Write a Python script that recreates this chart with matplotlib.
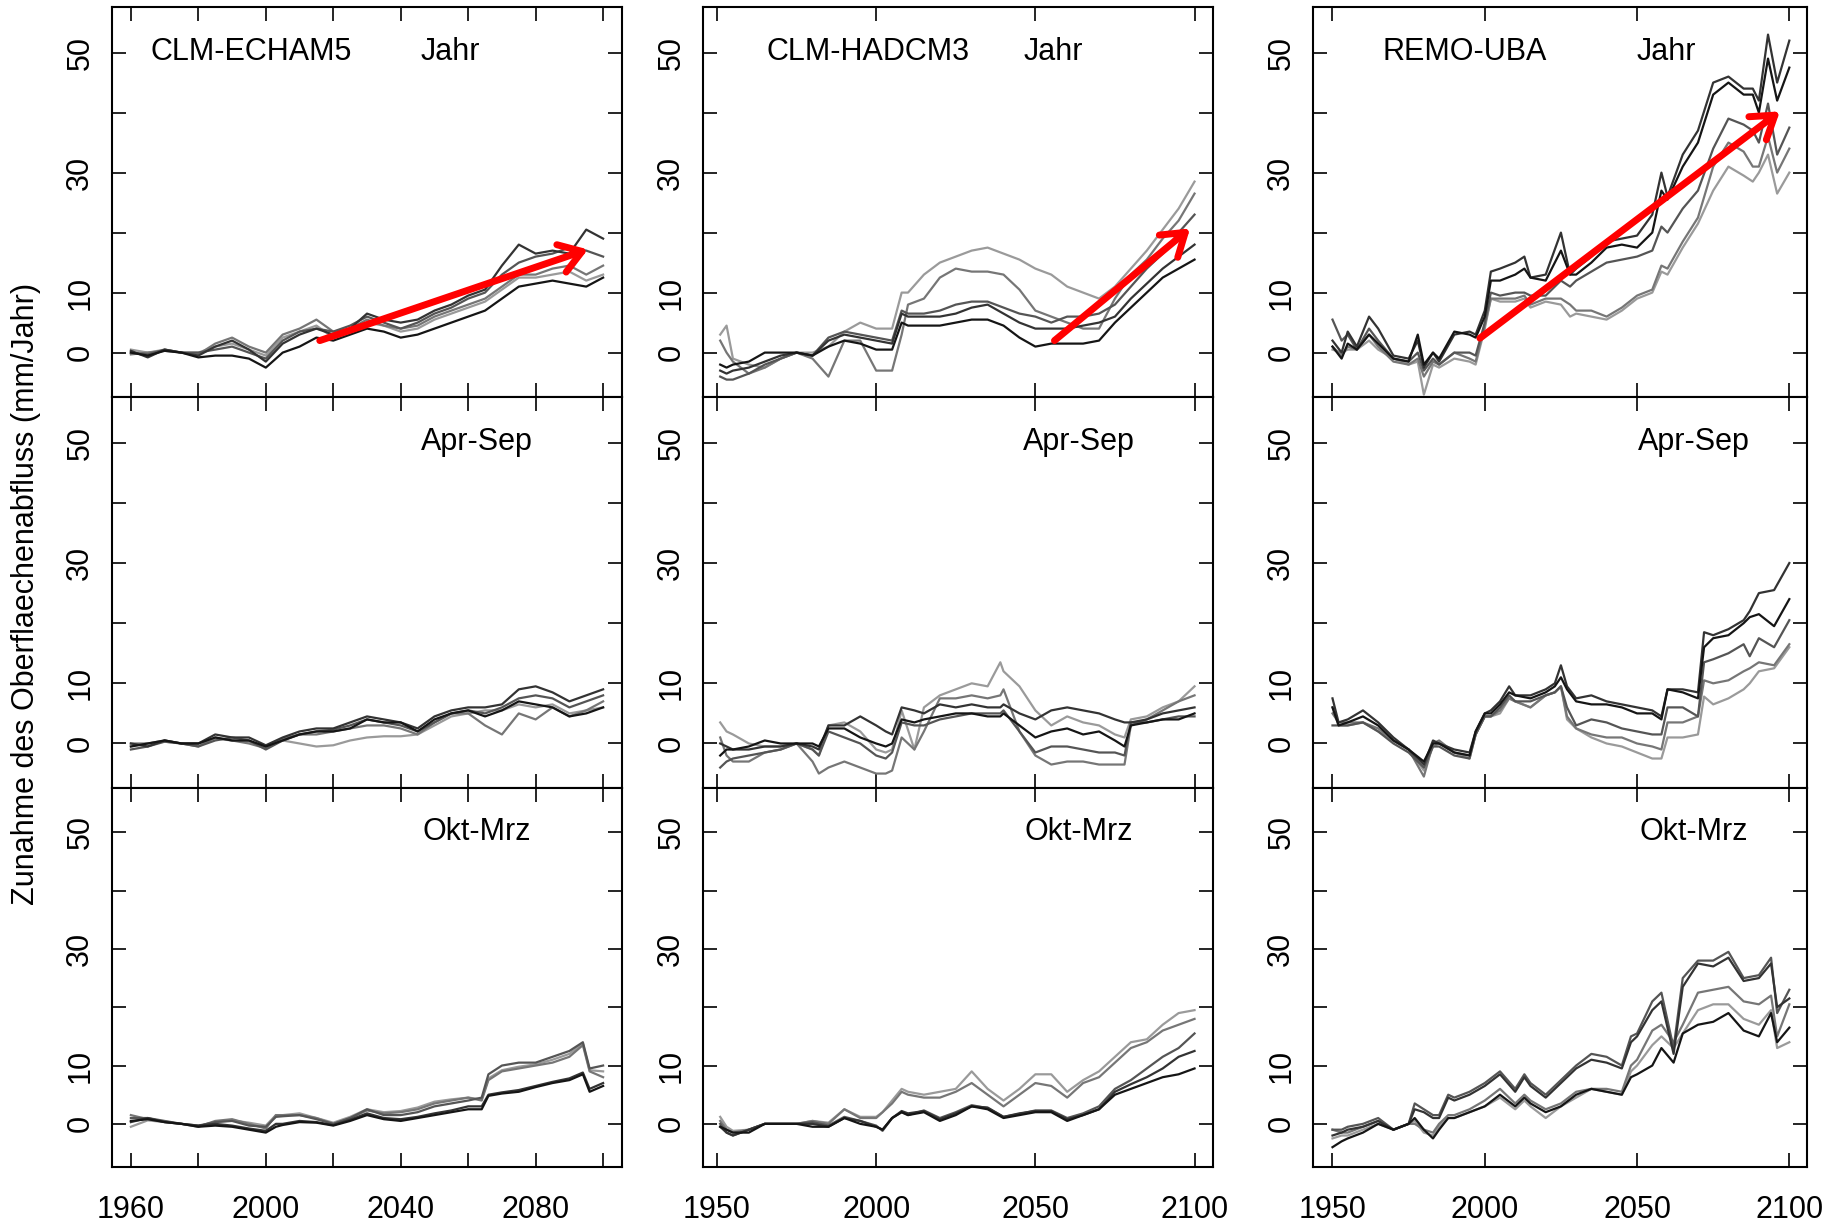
import matplotlib
matplotlib.use('Agg')
import matplotlib.pyplot as plt

plt.rcParams['font.family'] = ['Liberation Sans', 'DejaVu Sans']

# ---------------- data ----------------
models = ['CLM-ECHAM5', 'CLM-HADCM3', 'REMO-UBA']
seasons = ['Jahr', 'Apr-Sep', 'Okt-Mrz']
ylabel = 'Zunahme des Oberflaechenabfluss (mm/Jahr)'

# --- CLM-ECHAM5 ---
ech_years = list(range(1960, 2101, 5))
ech_jahr = [
    [0, -0.5, 0.3, 0, -0.8, -0.5, -0.5, -1, -2.5, 0, 1, 2.5, 2, 3, 4, 3.5, 2.5, 3, 4, 5, 6, 7, 9, 11, 11.5, 12, 11.5, 11, 12.5],
    [0.3, -0.8, 0.5, 0, -0.5, 1, 2, 0.5, -1.5, 1.5, 3, 4, 3, 4, 6.5, 5.5, 5, 5.5, 7, 8, 9.5, 10.5, 14.5, 18, 16.5, 17, 16.5, 20.5, 19],
    [0, -0.3, 0.5, 0, 0, 0.5, 1, 0, -1, 2, 3.5, 4, 3.5, 4.5, 6, 5, 4, 5, 6.5, 7.5, 9, 10, 13, 15, 16, 16.5, 17.5, 17, 16],
    [-0.3, 0, 0.3, 0, -0.3, 1.5, 2.5, 1, 0, 3, 4, 5.5, 3.5, 4, 5.5, 4.5, 4, 4.5, 6, 7, 8, 9, 11, 13, 13, 14, 14.5, 13, 14.5],
    [0.5, 0, 0.5, 0, 0, 1, 1.5, 0.5, -0.5, 2.5, 3.5, 4.5, 2.5, 3.5, 5, 4.5, 3.5, 4, 5.5, 6.5, 7.5, 8.5, 10.5, 12.5, 12.5, 13, 13.5, 12, 13],
]
ech_sommer = [
    [-0.5, 0, 0.5, 0, 0, 1, 0.5, 0.5, -0.5, 0.5, 1.5, 2, 2, 2.5, 4, 3.5, 3.5, 2, 4, 5, 5.5, 4.5, 5.5, 7, 6.5, 6, 4.5, 5, 6],
    [0, -0.5, 0.5, 0, 0, 1.5, 1, 1, -0.3, 1, 2, 2.5, 2.5, 3.5, 4.5, 4, 3.5, 2.5, 4.5, 5.5, 6, 6, 6.5, 9, 9.5, 8.5, 7, 8, 9],
    [-1, -0.5, 0.3, 0, -0.5, 0.5, 1, 0.5, -1, 0.5, 1.5, 2, 2.3, 3, 4, 3.5, 3, 2, 3.5, 5, 5.5, 5, 6, 7.5, 8, 7.5, 6, 7, 8],
    [0, 0, 0.5, 0, -0.5, 1, 0.5, 0, -0.8, 0.8, 1.5, 1.5, 2, 2.5, 3, 3, 2.5, 1.5, 3.5, 5, 5, 3, 1.5, 5, 4, 6, 4.5, 5.5, 7],
    [-0.5, 0, 0.3, 0, 0, 0.8, 0.5, 0.3, -0.5, 0.5, 0, -0.5, -0.3, 0.5, 1, 1.2, 1.2, 1.5, 3, 4.5, 5, 5.5, 5.5, 6.5, 6, 6.5, 5, 5.5, 6],
]
ech_winter_years = [1960, 1965, 1970, 1975, 1980, 1985, 1990, 1995, 2000, 2003, 2005, 2010, 2015, 2020, 2025,
                    2030, 2035, 2040, 2045, 2050, 2055, 2060, 2064, 2066, 2070, 2075, 2080, 2085, 2090, 2094, 2096, 2100]
ech_winter = [
    [0.5, 0.8, 0.3, 0, -0.5, -0.3, -0.5, -1, -1.5, -0.5, -0.2, 0.3, 0.2, -0.3, 0.5, 1.5, 0.8, 0.5, 1, 1.5, 2, 2.5, 2.5, 4.8, 5.2, 5.5, 6.3, 7, 7.5, 8.5, 5.5, 6.5],
    [0.3, 1, 0.3, 0, -0.3, 0, -0.3, -0.8, -1.2, 0, 0, 0.5, 0.3, -0.2, 0.7, 1.8, 1, 0.8, 1.2, 1.8, 2.3, 3, 3, 5, 5.4, 5.8, 6.5, 7.2, 7.8, 8.8, 6, 7],
    [1, 1, 0.5, 0, -0.3, 0.3, 0.5, -0.3, -0.5, 1.2, 1.3, 1.5, 0.8, 0, 1, 2.5, 1.5, 1.5, 2, 3, 3.5, 4, 4.5, 8.5, 10, 10.5, 10.5, 11.5, 12.5, 14, 9.5, 10],
    [1.5, 0.8, 0.4, 0, -0.5, 0.5, 0.8, 0, -0.8, 1.5, 1.5, 1.5, 1, 0, 1, 2.3, 1.8, 2, 2.5, 3.5, 4, 4.5, 4, 7.5, 9, 9.5, 10, 10.5, 11.5, 13.5, 9, 8],
    [-0.5, 0.6, 0.3, 0, -0.4, 0.3, 0.6, 0.2, -0.3, 1.5, 1.5, 1.8, 1, 0.2, 1.2, 2.5, 2, 2.2, 2.8, 3.8, 4.2, 4.5, 4.2, 7.8, 9.2, 9.8, 10.2, 11, 12, 13.8, 9.2, 9],
]

# --- CLM-HADCM3 ---
had_jahr_years = [1951, 1953, 1955, 1960, 1965, 1970, 1975, 1980, 1985, 1990, 1995, 2000, 2005, 2008, 2010, 2015,
                  2020, 2025, 2030, 2035, 2040, 2045, 2050, 2055, 2060, 2065, 2070, 2075, 2080, 2085, 2090, 2095, 2100]
had_jahr = [
    [-2, -2.5, -2, -1.5, 0, 0, 0, -0.5, 1, 2, 1.5, 0.5, 0.5, 5, 4.5, 4.5, 4.5, 5, 5.5, 5.5, 4.5, 2.5, 1, 1.5, 1.5, 1.5, 2, 5, 7.5, 10, 12.5, 14, 15.5],
    [-3, -3.5, -3, -2.5, -1.5, -0.5, 0, -0.5, 2, 3, 2.5, 2, 1.5, 6.5, 6, 6, 6, 6.5, 7.5, 8, 6.5, 5, 4, 4, 4, 4.5, 5, 6, 9, 11.5, 14, 16, 18],
    [-4, -4.5, -4.5, -3.5, -2, -1, 0, -0.5, 2.5, 3.5, 3, 2.5, 2, 7, 6.5, 6.5, 7, 8, 8.5, 8.5, 7.5, 6.5, 6, 5, 6, 6, 6.5, 8, 11, 14, 16.5, 20, 23],
    [2, 0, -1.5, -3.5, -2.5, -1, 0, -1, -4, 2, 2, -3, -3, 3, 8, 9, 12.5, 14, 13.5, 13.5, 13, 10.5, 7, 6, 5, 4, 4, 9, 13, 15.5, 19, 22, 26.5],
    [3, 4.5, -1, -2, -2.5, -1, 0, 0, 1, 3.5, 5, 4, 4, 10, 10, 13, 15, 16, 17, 17.5, 16.5, 15.5, 14, 13, 11, 10, 9, 11, 14, 17, 20.5, 24, 28.5],
]
had_sommer_years = [1951, 1953, 1955, 1960, 1965, 1970, 1975, 1980, 1982, 1985, 1990, 1995, 2000, 2003, 2005, 2008,
                    2012, 2015, 2020, 2025, 2030, 2035, 2039, 2040, 2045, 2050, 2055, 2060, 2065, 2070, 2075, 2078,
                    2080, 2085, 2090, 2095, 2100]
had_sommer = [
    [-2, -1, -1, -0.5, 0.5, 0, 0, 0, -0.5, 2.5, 2.5, 1, 0, -0.5, 0, 4, 3.5, 4, 4.5, 5, 5, 4.5, 4.5, 5, 3, 1, 2, 2.5, 1.5, 2, 0.5, -0.5, 3, 3.5, 4, 4, 5],
    [0, -0.5, -1, -1, -0.5, -0.5, 0, -0.5, -1, 3, 3, 4.5, 3, 2, 1.5, 6, 5.5, 5, 6.5, 6, 6.5, 6, 6, 6.5, 5, 4, 5.5, 6, 5.5, 5, 4, 3.5, 3.5, 4, 5, 5.5, 6],
    [-4, -3, -2.5, -2, -1.5, -1, 0, -1, -2, 2, 1, 0, -2, -2.5, -1.5, 3.5, 3, 3, 4, 4.5, 5, 5, 5, 5.5, 2, -1.5, -0.5, -0.5, -1, -1.5, -1.5, -2, 3.5, 3.5, 4, 4.5, 4.5],
    [1, -2, -3, -3, -1.5, -1, 0, -3, -5, -4, -3, -4, -5, -5, -4.5, 1, -1, 2, 7.5, 7.5, 8, 7.5, 8, 9, 2, -2, -3.5, -3, -3, -3.5, -3.5, -3.5, 3, 4, 5.5, 7, 8],
    [3.5, 2, 1.5, 0, -0.5, -0.5, 0, -1, -2, 3, 3.5, 2, -1, -1.5, -1, 5.5, -1, 6, 8, 9, 10, 9.5, 13.5, 12, 9.5, 5.5, 3, 4.5, 3.5, 3, 1.5, 1, 4, 4.5, 6, 7, 9.5],
]
had_winter_years = [1951, 1953, 1955, 1960, 1965, 1970, 1975, 1980, 1985, 1990, 1995, 2000, 2002, 2005, 2008, 2010,
                    2015, 2020, 2025, 2030, 2035, 2040, 2045, 2050, 2055, 2060, 2065, 2070, 2075, 2080, 2085, 2090, 2095, 2100]
had_winter = [
    [-0.5, -1, -1.5, -1.5, 0, 0, 0, -0.5, -0.5, 1, 0, -0.5, -1, 1, 2, 1.5, 2, 0.5, 1.5, 3, 2.5, 1, 1.5, 2, 2, 0.5, 1.5, 2.5, 5, 6, 7, 8, 8.5, 9.5],
    [-0.5, -1.5, -2, -1, 0, 0, 0, 0, -0.5, 1, 0.5, -0.5, -1, 1, 2.2, 1.8, 2.2, 0.8, 1.8, 3, 2.8, 1.2, 1.8, 2.2, 2.2, 0.8, 1.5, 2.5, 5.5, 6.8, 8, 9.5, 11.5, 12.5],
    [0, -1.5, -2, -1, 0, 0, 0, 0.3, -0.3, 1.2, 0.5, -0.3, -1.2, 1, 2, 1.5, 2.3, 1, 2, 3.2, 2.7, 1.2, 1.7, 2.3, 2.3, 1, 1.8, 3, 6, 7.5, 9.5, 11.5, 13, 15.5],
    [0.5, -1, -1.5, -1, 0, 0, 0, 0.5, 0, 2.5, 1, 1, 2, 3.5, 5.5, 5, 4.5, 4.5, 5.5, 7, 5, 3, 5, 7, 6.5, 4.5, 7, 8, 10.5, 13, 14, 16, 17, 18],
    [1.2, -0.5, -1.2, -1, 0, 0, 0, 0.5, 0.2, 2.5, 1.2, 1.2, 2, 4, 6, 5.5, 5, 5.5, 6, 9, 6, 4, 6, 8.5, 8.5, 5.5, 7.5, 9, 11.5, 14, 14.5, 17, 19, 19.5],
]

# --- REMO-UBA ---
remo_jahr_years = [1950, 1953, 1955, 1958, 1962, 1965, 1970, 1975, 1978, 1980, 1983, 1985, 1990, 1995, 1997, 2000,
                   2002, 2005, 2010, 2013, 2015, 2020, 2025, 2028, 2030, 2035, 2040, 2045, 2050, 2055, 2058, 2060,
                   2065, 2070, 2075, 2080, 2085, 2088, 2090, 2093, 2096, 2100]
remo_jahr = [
    [1, -1, 1.5, 0.5, 3, 1.5, -1, -1.5, 3, -2, 0, -1, 3.5, 3, 2.5, 6, 12, 12, 13, 14, 12.5, 12, 17, 13, 13, 15, 17.5, 18, 17.5, 20, 27, 25.5, 31, 35, 43, 45, 43, 43, 40, 49, 42, 47.5],
    [2, 0, 3.5, 1, 6, 4, -0.5, -1, 2, -2.5, 0, -1.5, 3, 3.5, 3, 7, 13.5, 14, 15, 16, 12.5, 13, 20, 13, 14, 16, 18.5, 19, 19.5, 23, 30, 26, 33, 37, 45, 46, 44, 44, 42, 53, 45, 52],
    [5.5, 2, 3, 0.5, 4, 2, -1, -1.5, 0, -3, -1, -2, 0, 0, -0.5, 5, 10, 9.5, 10, 10, 9.5, 9.5, 12, 11, 12, 13.5, 15, 15.5, 16, 17, 21, 20, 24, 27, 34, 39, 38, 37, 35, 41.5, 33, 37.5],
    [1, -0.5, 1, 0.5, 3, 1, -1.5, -2, -1, -4, -1.5, -2, 0, -1, -1.5, 4.5, 9, 9, 9, 9.5, 8, 9, 9, 8, 7, 7, 6, 7.5, 9.5, 10.5, 14.5, 14, 18.5, 22.5, 31, 35, 33.5, 31, 31, 36, 30, 34],
    [0.5, 0, 0.5, 0.5, 2, 0.5, -1, -2, -1.5, -7, -2, -2.5, -1, -1.5, -2, 4, 9, 8.5, 8.5, 9, 7.5, 8.5, 8, 6, 6.5, 6, 5.5, 7, 9, 10, 13.5, 13, 17.5, 21.5, 27, 31, 29.5, 28.5, 30, 33, 26.5, 30],
]
remo_sommer_years = [1950, 1952, 1955, 1960, 1965, 1970, 1975, 1980, 1983, 1985, 1990, 1995, 1997, 2000, 2002, 2005,
                     2008, 2010, 2015, 2020, 2023, 2025, 2027, 2030, 2035, 2040, 2045, 2050, 2055, 2058, 2060, 2065,
                     2070, 2072, 2075, 2080, 2085, 2087, 2090, 2095, 2100]
remo_sommer = [
    [6, 3, 3.5, 4.5, 3, 0.5, -1, -3, 0, 0, -1.5, -2, 2, 5, 5, 6.5, 8.5, 8, 7.5, 8.5, 9.5, 11, 9, 7, 6.5, 6.5, 6, 5, 5, 4, 9, 8.5, 7.5, 16, 17.5, 18, 20, 21, 21.5, 19.5, 24],
    [7.5, 3.5, 4, 5.5, 3.5, 1, -1, -3.5, 0.5, 0, -1, -1.5, 2, 5, 5.5, 7, 9.5, 8, 8, 9, 10, 13, 9.5, 7.5, 8, 7, 6.5, 6, 5.5, 4.5, 9, 9, 8.5, 18.5, 18, 19, 20.5, 22, 25, 25.5, 30],
    [3, 3, 3, 3.5, 2, 0, -1.5, -4, -0.5, -0.5, -2, -2.5, 1.5, 4.5, 4.5, 6, 8, 7, 7, 8, 8.5, 9.5, 6, 3, 4, 3.5, 2.5, 2, 1.5, 1.5, 6, 6, 4.5, 13.5, 14, 15, 16.5, 14.5, 17.5, 16, 20.5],
    [5, 3.5, 3.5, 3.5, 2.5, 0.5, -1, -5.5, 0, 0.5, -1.5, -2, 1.5, 4.5, 4.5, 5.5, 7.5, 7, 6, 8, 8.5, 9.5, 4.5, 2.5, 1.5, 1, 1, 0, -0.5, -1, 3.5, 3.5, 4.5, 10.5, 10, 10.5, 12, 12.5, 13.5, 13, 16.5],
    [6, 3, 3, 3.5, 2, 0.5, -1, -4.5, -0.5, 0, -1.5, -2.5, 1.5, 4.5, 4.5, 5, 7.5, 7, 6, 8, 8.5, 9.5, 4, 2.5, 1, 0, -0.5, -1.5, -2.5, -2.5, 1, 1, 1.5, 7.8, 6.5, 7.5, 9, 10, 12, 12.5, 16],
]
remo_winter_years = [1950, 1953, 1955, 1960, 1965, 1970, 1975, 1977, 1980, 1983, 1985, 1988, 1990, 1995, 2000, 2005,
                     2010, 2013, 2015, 2020, 2025, 2030, 2035, 2040, 2045, 2048, 2050, 2055, 2058, 2062, 2065, 2070,
                     2075, 2080, 2085, 2090, 2094, 2096, 2100]
remo_winter = [
    [-4, -3, -2.5, -1.5, 0, -1, 0, 1, -1, -2.5, -1, 1, 1, 2, 3, 5, 3, 4.5, 3.5, 2, 3, 5, 6, 5.5, 5, 8, 8.5, 10, 13, 10.5, 15.5, 17, 17.5, 19, 16, 15, 19, 14, 16.5],
    [-2, -1.5, -1, -0.5, 0.5, -1, 0, 2.5, 2, 1, 1, 4.5, 4, 5, 6.5, 8.5, 5.5, 8, 6.5, 4.5, 7, 9.5, 11, 10.5, 9.5, 14, 15, 19.5, 21, 12, 23.5, 27.5, 27, 28.5, 24.5, 25, 27.5, 20, 21.5],
    [-1, -1, -0.5, 0, 1, -1, 0, 3.5, 2.5, 1.5, 1.5, 5, 4.5, 5.5, 7, 9, 6, 8.5, 7, 5, 7.5, 10, 12, 11.5, 10, 15, 15.5, 21, 22.5, 13, 25, 28, 28, 29.5, 25, 25.5, 28.5, 19, 23],
    [-1, -1.5, -1.5, -0.5, 0.5, -1, 0, 0, -1, -1.5, 0, 1.5, 1.5, 2.5, 4, 6, 3.5, 5, 4, 2.5, 3.5, 5.5, 6, 6, 5.5, 10, 11, 16, 17, 14, 17, 22.5, 23, 23.5, 21, 20.5, 22, 15, 20.5],
    [-2.5, -2, -2, -1, 0, -1, 0, 0.5, -1.5, -2, -0.5, 1, 1, 2, 3, 4.5, 2.5, 4, 3, 1, 3, 4.5, 6, 5.5, 5, 9, 10, 13.5, 15, 13, 15.5, 19.5, 20.5, 20.5, 18, 17, 19.5, 13, 14],
]

# red trend arrows (start year, start value, end year, end value)
arrow_ech = (2016, 2.0, 2095.5, 17.2)
arrow_had = (2056, 2.0, 2098.6, 20.7)
arrow_remo = (1998.4, 2.4, 2096.9, 40.2)

# ---------------- layout ----------------
W, H = 1843, 1225
fig = plt.figure(figsize=(W / 100, H / 100), dpi=100)

col_left = [112, 703, 1313]
col_width = [510, 510, 494]
row_top = [7, 397, 788]
row_bottom = [397, 788, 1167]
xlims = [(1954.4, 2105.6), (1945.6, 2105.8), (1943.6, 2105.8)]
xtick_pos = [list(range(1960, 2101, 20)), [1950, 2000, 2050, 2100], [1950, 2000, 2050, 2100]]
xtick_lab = [['1960', '', '2000', '', '2040', '', '2080', ''],
             ['1950', '2000', '2050', '2100'], ['1950', '2000', '2050', '2100']]

panels = [
    [(ech_years, ech_jahr), (ech_years, ech_sommer), (ech_winter_years, ech_winter)],
    [(had_jahr_years, had_jahr), (had_sommer_years, had_sommer), (had_winter_years, had_winter)],
    [(remo_jahr_years, remo_jahr), (remo_sommer_years, remo_sommer), (remo_winter_years, remo_winter)],
]
arrows = [arrow_ech, arrow_had, arrow_remo]
shades = ['#151515', '#333333', '#555555', '#767676', '#9a9a9a']

model_x = [0.075, 0.124, 0.141]
jahr_x = [0.663, 0.686, 0.715]
season_x = [0.716, 0.737, 0.770]

for c in range(3):
    for r in range(3):
        left = col_left[c] / W
        bottom = 1 - row_bottom[r] / H
        height = (row_bottom[r] - row_top[r]) / H
        ax = fig.add_axes([left, bottom, col_width[c] / W, height])
        yrs, lines = panels[c][r]
        for i in range(len(lines) - 1, -1, -1):
            ax.plot(yrs, lines[i], color=shades[i], lw=1.6, solid_joinstyle='round')
        ax.set_xlim(*xlims[c])
        ax.set_ylim(-7.4, 57.6)
        ax.set_yticks([0, 10, 20, 30, 40, 50])
        ax.set_yticklabels(['0', '10', '', '30', '', '50'], rotation=90, va='center')
        ax.set_xticks(xtick_pos[c])
        ax.set_xticklabels(xtick_lab[c])
        ax.tick_params(axis='both', direction='in', length=10, width=1.2,
                       top=True, right=True, labelsize=22, colors='black')
        ax.tick_params(axis='y', pad=12)
        ax.tick_params(axis='x', pad=20)
        if r < 2:
            ax.tick_params(labelbottom=False)
        for s in ax.spines.values():
            s.set_linewidth(1.5)
        if r == 0:
            ax.text(model_x[c], 0.885, models[c], transform=ax.transAxes,
                    fontsize=22, ha='left', va='center')
            ax.text(jahr_x[c], 0.885, seasons[0], transform=ax.transAxes,
                    fontsize=22, ha='center', va='center')
            x0, y0, x1, y1 = arrows[c]
            ax.annotate('', xy=(x1, y1), xytext=(x0, y0),
                        arrowprops=dict(arrowstyle='->,head_length=0.6,head_width=0.4',
                                        color='#ff0000', lw=5, mutation_scale=26,
                                        shrinkA=0, shrinkB=0))
        else:
            ax.text(season_x[c], 0.885, seasons[r], transform=ax.transAxes,
                    fontsize=22, ha='center', va='center')

fig.text(26 / W, 0.515, ylabel, rotation=90, ha='center', va='center', fontsize=22)

fig.savefig('out.png', dpi=100)
